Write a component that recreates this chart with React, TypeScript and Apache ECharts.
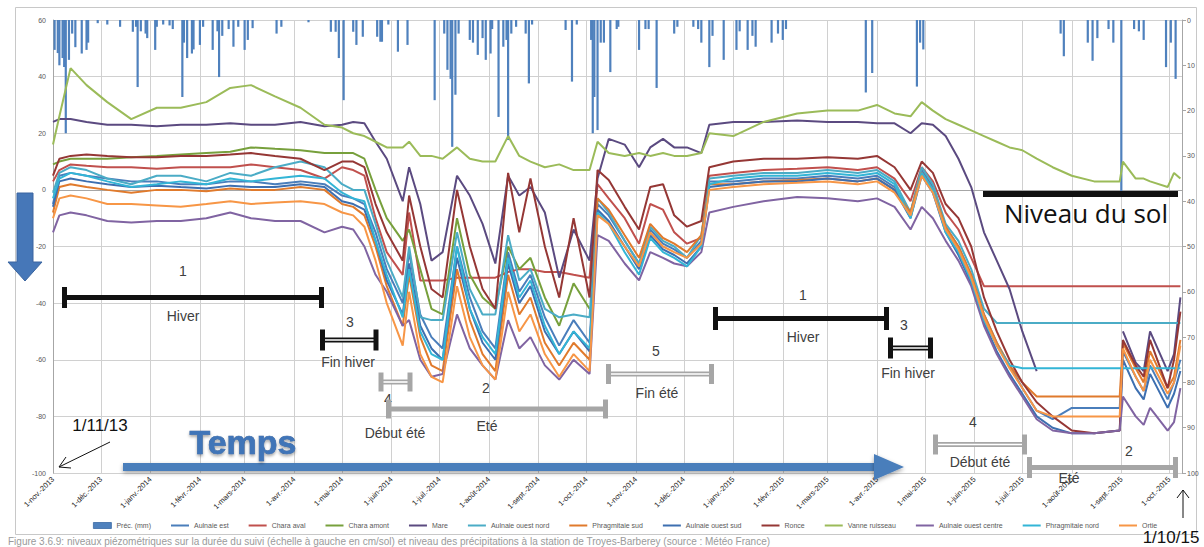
import React, { useEffect, useRef } from "react";
import * as echarts from "echarts";

// ---------- DATA ----------
const AXIS_START = "2013-11-01";
const AXIS_END = "2015-10-09";
const monthAbbr = ["janv.", "févr.", "mars", "avr.", "mai", "juin", "juil.", "août", "sept.", "oct.", "nov.", "déc."];

const sampleDates = [
  "2013-11-01", "2013-11-05", "2013-11-12", "2013-11-22", "2013-12-05", "2013-12-20", "2014-01-05", "2014-01-20", "2014-02-05", "2014-02-20",
  "2014-03-05", "2014-03-20", "2014-04-05", "2014-04-20", "2014-05-01", "2014-05-08", "2014-05-15", "2014-05-22", "2014-05-29", "2014-06-08",
  "2014-06-12", "2014-06-19", "2014-06-26", "2014-07-03", "2014-07-12", "2014-07-20", "2014-07-28", "2014-08-05", "2014-08-13", "2014-08-20",
  "2014-08-27", "2014-09-05", "2014-09-14", "2014-09-23", "2014-10-03", "2014-10-08", "2014-10-15", "2014-10-25", "2014-11-03", "2014-11-10",
  "2014-11-18", "2014-11-25", "2014-12-03", "2014-12-12", "2014-12-17", "2015-01-01", "2015-01-20", "2015-02-10", "2015-03-01", "2015-03-20",
  "2015-04-01", "2015-04-12", "2015-04-22", "2015-04-29", "2015-05-06", "2015-05-14", "2015-05-22", "2015-05-30", "2015-06-07", "2015-06-15",
  "2015-06-23", "2015-07-01", "2015-07-10", "2015-07-20", "2015-08-01", "2015-08-15", "2015-08-31", "2015-09-02", "2015-09-10", "2015-09-15",
  "2015-09-19", "2015-09-30", "2015-10-04", "2015-10-08",
];

const aulnaieEst = [
  -5, 5, 6, 5, 4, 3, 3, 2, 2, 3,
  3, 2, 3, 2, -2, -3, -5, -15, -28, -40,
  -22, -44, -52, -56, -20, -38, -50, -56, -22, -36,
  -30, -45, -55, -46, -54, -5, -9, -18, -26, -14,
  -19, -21, -24, -18, 3, 3, 4, 4, 5, 4,
  5, 1, -8, 7, 1, -13, -20, -30, -44, -54,
  -62, -70, -78, -81, -77, -77, -77, -57, -66, -71,
  -62, -74, -68, -60,
];
const charaAval = [
  3, 7, 9, 8.5, 8, 8, 7.5, 8, 8, 8,
  9, 8, 7, 4, 8, 7, 5, -10, -22, -30,
  -8, -32, -32, -32, -31, -31, -31, -31, -29, -28,
  -28, -29, -29, -30, -31, 2, -3, -10, -19, -5,
  -7, -15, -19, -17, 5, 6, 7, 7.5, 8, 7,
  8, 4, -4, 8, 3, -8, -14, -24, -34, -34,
  -34, -34, -34, -34, -34, -34, -34, -34, -34, -34,
  -34, -34, -34, -34,
];
const charaAmont = [
  9, 10, 11, 11, 11, 11.5, 12, 12.5, 13, 13.5,
  15, 14.5, 14, 13, 13, 13, 11, 0, -10, -18,
  -14, -28, -42, -44, -10, -30, -38, -42, -20, -28,
  -24, -38, -48, -33, -42, null, null, null, null, null,
  null, null, null, null, null, null, null, null, null, null,
  null, null, null, null, null, null, null, null, null, null,
  null, null, null, null, null, null, null, null, null, null,
  null, null, null, null,
];
const mare = [
  24, 25, 25, 24, 23, 23, 22.5, 23, 23, 23.5,
  23, 23, 24, 22.5, 23, 24, 23.5, 17, 11, -4,
  8, -5, -25, -22, 5, -2, -12, -26, 5, -2,
  1, -8, -31, -14, -25, 4, 18, 16, 8, 15,
  18, 15, 15, 13, 23, 24, 24, 24.5, 24, 24,
  23.5, 23.5, 20, 23.5, 23, 19, 11, 1, -15, -25,
  -35, -50, -64, null, null, null, null, -50, -61, -64,
  -50, -64, -58, -38,
];
const aulnaieOuestNord = [
  -1, 6, 8, 7, 4, 2, 5, 5, 3, 6,
  5, 8, 10, 8, 2, 0, 0, -12, -25, -38,
  -20, -45, -46, -46, -15, -35, -44, -44, -16, -32,
  -28, -42, -45, -44, -45, -3, -8, -18, -26, -13,
  -18, -20, -24, -16, 4, 5, 6, 6, 7, 6,
  7, 3, -8, 8, 2, -12, -18, -28, -42, -47,
  -47, -47, -47, -47, -47, -47, -47, -47, -47, -47,
  -47, -47, -47, -47,
];
const phragmitaieSud = [
  -8, 1, 2, 1, 0, -1, 0, 0, -0.5, 0.5,
  0, 0, 1, 0, -5, -6, -9, -20, -34, -48,
  -30, -52, -62, -64, -28, -46, -58, -64, -30, -44,
  -38, -54, -62, -54, -60, -3, -7, -16, -24, -12,
  -17, -19, -22, -16, 2, 2, 3, 3.5, 4, 3,
  4, 0, -8, 6, 0, -13, -20, -30, -44, -54,
  -62, -68, -73, -73, -73, -73, -73, -54, -63, -68,
  -57, -70, -66, -53,
];
const aulnaieOuestSud = [
  -6, 3, 4, 3, 2, 1, 1.5, 1, 0.5, 1.5,
  1, 1, 2, 1, -4, -5, -7, -18, -32, -44,
  -26, -48, -56, -60, -24, -42, -54, -60, -26, -40,
  -34, -50, -58, -50, -57, -7, -11, -20, -28, -16,
  -21, -23, -26, -20, 1, 2, 3, 3, 4, 3,
  4, 0, -10, 5, -1, -15, -23, -33, -47, -57,
  -65, -72, -80, -84, -86, -86, -85, -60, -70, -74,
  -65, -77, -72, -64,
];
const ronce = [
  5, 11, 12, 12.5, 12, 11.5, 11.5, 12, 12, 12.5,
  13, 12, 11, 7, 10, 10, 8, -5, -15, -25,
  -2, -20, -35, -38, 0, -20, -35, -42, 6, -15,
  4, -20, -38, -10, -38, 7, 3.5, -6, -14, 1,
  2, -9, -13, -11, 8, 10, 11, 11, 11.5, 11,
  12, 8, 0, 10, 6, -5, -10, -20, -38, -50,
  -60, -68, -75, -80, -85, -86, -85, -53, -62, -66,
  -53, -70, -60, -43,
];
const vanneRuisseau = [
  16, 26, 43, 37, 31, 25, 29, 29, 31, 36,
  37, 33, 29, 23, 22, 20, 19, 17, 15, 15,
  17, 12, 12, 11, 15, 11, 10, 10, 19, 12,
  10, 8, 9, 7, 7, 17, 13, 12, 13, 12,
  13, 12, 12, 13, 20, 19, 24, 27, 28, 28,
  30, 27, 26, 31, 28, 25, 23, 21, 19, 17,
  15, 14, 11, 8, 5, 3, 3, 10, 4, 4,
  3, 1, 6, 4,
];
const aulnaieOuestCentre = [
  -15, -9, -8, -9, -11, -11.5, -11, -11, -10, -8,
  -10, -11, -11, -15, -13, -14, -20, -30, -36, -48,
  -46, -60, -66, -65, -44, -56, -62, -67, -46, -56,
  -52, -62, -67, -60, -65, -16, -18, -26, -32, -22,
  -24, -26, -27, -22, -8, -6, -4, -2.5, -3, -4,
  -3, -6, -14, -6, -10, -18, -25, -34, -48, -58,
  -66, -73, -81, -85, -86, -86, -85, -73, -80, -83,
  -77, -85, -82, -70,
];
const phragmitaieNord = [
  -3, 4, 6, 5, 3, 1, 2, 3, 2, 4,
  3, 4, 5, 4, -1, -3, -4, -18, -30, -45,
  -28, -50, -58, -60, -20, -42, -52, -58, -24, -38,
  -32, -48, -58, -50, -56, -8, -12, -22, -30, -17,
  -22, -24, -27, -20, 2, 4, 5, 5, 6, 5,
  6, 2, -10, 6, 0, -15, -22, -32, -46, -55,
  -62, -63, -63, -63, -63, -63, -63, -63, -63, -63,
  -63, -63, -63, -63,
];
const ortie = [
  -10, -3, -2, -3, -5, -5, -5.5, -6, -5, -4,
  -5, -4.5, -4, -5, -8, -9, -13, -25, -40, -55,
  -36, -58, -66, -68, -34, -52, -62, -67, -36, -50,
  -44, -58, -66, -58, -64, -9, -12, -20, -27, -15,
  -20, -22, -24, -19, 0, 1, 2, 2.5, 3, 2,
  3, -1, -9, 5, -1, -14, -21, -31, -45, -55,
  -63, -70, -78, -80, -80, -80, -80, -56, -66, -71,
  -60, -72, -68, -55,
];

const lineNames = [
  "Aulnaie est", "Chara aval", "Chara amont", "Mare", "Aulnaie ouest nord", "Phragmitaie sud",
  "Aulnaie ouest sud", "Ronce", "Vanne ruisseau", "Aulnaie ouest centre", "Phragmitaie nord", "Ortie",
];
const lineValues = [
  aulnaieEst, charaAval, charaAmont, mare, aulnaieOuestNord, phragmitaieSud,
  aulnaieOuestSud, ronce, vanneRuisseau, aulnaieOuestCentre, phragmitaieNord, ortie,
];
const lineColors = [
  "#4a7ebb", "#c0504d", "#77a03c", "#5b4a80", "#4bacc6", "#e07a2c",
  "#3d6fb0", "#953735", "#9bbb59", "#8064a2", "#33b5d6", "#f79646",
];

const precipName = "Préc. (mm)";
const precipDates = [
  "2013-11-02", "2013-11-04", "2013-11-05", "2013-11-07", "2013-11-08", "2013-11-09", "2013-11-11", "2013-11-13", "2013-11-15", "2013-11-19",
  "2013-11-22", "2013-11-23", "2013-11-29", "2013-12-05", "2013-12-13", "2013-12-21", "2013-12-23", "2013-12-24", "2013-12-26", "2013-12-29",
  "2013-12-30", "2014-01-04", "2014-01-05", "2014-01-09", "2014-01-13", "2014-01-15", "2014-01-21", "2014-01-22", "2014-01-24", "2014-01-27",
  "2014-01-28", "2014-02-01", "2014-02-03", "2014-02-09", "2014-02-12", "2014-02-13", "2014-02-15", "2014-02-19", "2014-02-22", "2014-02-25",
  "2014-03-01", "2014-03-03", "2014-03-06", "2014-03-21", "2014-03-24", "2014-04-10", "2014-04-24", "2014-04-27", "2014-04-29", "2014-05-02",
  "2014-05-08", "2014-05-10", "2014-05-14", "2014-05-23", "2014-05-25", "2014-05-26", "2014-05-30", "2014-06-05", "2014-06-11", "2014-06-28",
  "2014-07-04", "2014-07-06", "2014-07-08", "2014-07-09", "2014-07-11", "2014-07-13", "2014-07-20", "2014-07-22", "2014-07-25", "2014-07-28",
  "2014-07-30", "2014-08-02", "2014-08-03", "2014-08-07", "2014-08-10", "2014-08-12", "2014-08-13", "2014-08-15", "2014-08-18", "2014-08-24",
  "2014-08-26", "2014-08-28", "2014-09-18", "2014-09-22", "2014-09-25", "2014-10-04", "2014-10-05", "2014-10-06", "2014-10-08", "2014-10-10",
  "2014-10-12", "2014-10-16", "2014-10-20", "2014-10-21", "2014-11-03", "2014-11-07", "2014-11-09", "2014-11-14", "2014-11-25", "2014-11-27",
  "2014-12-07", "2014-12-10", "2014-12-12", "2014-12-17", "2014-12-19", "2014-12-26", "2015-01-03", "2015-01-05", "2015-01-10", "2015-01-13",
  "2015-01-15", "2015-01-25", "2015-01-29", "2015-02-01", "2015-02-03", "2015-03-25", "2015-03-29", "2015-04-26", "2015-04-28", "2015-04-30",
  "2015-07-25", "2015-07-27", "2015-08-11", "2015-08-14", "2015-08-17",
  "2015-08-24", "2015-08-27", "2015-09-01", "2015-09-09", "2015-09-12", "2015-09-15", "2015-09-29", "2015-10-02", "2015-10-05",
];
const precipMm = [
  6.6, 7.3, 10, 8.4, 10.4, 25, 8.8, 3, 6, 7.4,
  6.6, 5, 0.7, 1, 1.5, 2.6, 1.5, 14.8, 2.5, 3,
  4, 6.6, 1.5, 1, 1.2, 2, 17, 5, 8.4, 7.4,
  6.5, 5.5, 1.5, 6.6, 2.5, 12.6, 3.5, 2, 5.9, 1.5,
  6.6, 4.4, 1.8, 3, 1.5, 0.5, 2.6, 2.6, 8.4, 17.7,
  2.6, 5.5, 3.7, 3.7, 4.8, 4.8, 1, 7, 5.5, 17.7,
  3, 11, 13, 28, 16.5, 3, 4.4, 5, 7.7, 4,
  8.8, 7.4, 2, 21.4, 5.9, 4.4, 26.5, 3, 1.5, 3,
  14, 1, 2.2, 13.6, 1, 4.4, 25, 17, 24.3, 5,
  5, 11.5, 2, 1.5, 6.6, 2, 2, 15, 3, 1.5,
  1.5, 2, 5, 10.4, 3.5, 8.8, 6.6, 2.5, 6.6, 3.5,
  5.9, 5, 3, 4.4, 2, 16, 11.7, 14.7, 5, 6.5,
  3, 8, 5, 9, 4,
  2, 5, 39, 2, 2.5, 4.4, 10.4, 5, 13,
];

const leftAxis = { min: -100, max: 60, interval: 20 };
const rightAxis = { min: 0, max: 100, interval: 10 };

// ---------- helpers ----------
function buildDays(start: string, end: string): string[] {
  const out: string[] = [];
  const s = new Date(start + "T00:00:00Z").getTime();
  const e = new Date(end + "T00:00:00Z").getTime();
  for (let t = s; t <= e; t += 86400000) out.push(new Date(t).toISOString().slice(0, 10));
  return out;
}
const isMonthStart = (_i: number, v: string) => v.endsWith("-01");
const fmtDate = (v: string) => {
  const [y, m, d] = v.split("-");
  return `${parseInt(d, 10)}-${monthAbbr[parseInt(m, 10) - 1]}-${y}`;
};

const TXT_FONT = "Liberation Sans, Arial, sans-serif";
function txt(s: string, x: number, y: number, size: number, color = "#404040", weight = "normal", family = TXT_FONT, extra: any = {}) {
  return {
    type: "text", x, y, z: 100,
    style: {
      text: s, fill: color, font: `${weight} ${size}px ${family}`,
      align: "center", verticalAlign: "middle", textAlign: "center", textVerticalAlign: "middle", ...extra,
    },
  };
}
function whisker(x1: number, x2: number, y: number, color: string, double: boolean, capH = 21) {
  const els: any[] = [
    { type: "rect", z: 100, shape: { x: x1, y: y - 2.5, width: x2 - x1, height: 5 }, style: { fill: color } },
  ];
  if (double) els.push({ type: "rect", z: 101, shape: { x: x1, y: y - 0.8, width: x2 - x1, height: 1.6 }, style: { fill: "#ffffff" } });
  els.push({ type: "rect", z: 102, shape: { x: x1 - 2.5, y: y - capH / 2, width: 5, height: capH }, style: { fill: color } });
  els.push({ type: "rect", z: 102, shape: { x: x2 - 2.5, y: y - capH / 2, width: 5, height: capH }, style: { fill: color } });
  return els;
}

const BLACK = "#111111";
const GREY = "#a6a6a6";

function buildGraphic() {
  const g: any[] = [];
  g.push({ type: "rect", z: 0, shape: { x: 15.5, y: 7.5, width: 1181, height: 527 }, style: { fill: "none", stroke: "#c8c8c8", lineWidth: 1 }, silent: true });
  // left blue down arrow
  g.push({
    type: "polygon", z: 100,
    shape: { points: [[17, 193], [33, 193], [33, 262], [42, 262], [25, 281], [8, 262], [17, 262]] },
    style: { fill: "#4677b8", stroke: "#3a65a0", lineWidth: 1 },
  });
  // phases
  g.push(...whisker(64.5, 321.5, 297.5, BLACK, false));
  g.push(txt("1", 183, 271, 14), txt("Hiver", 183, 316, 14));
  g.push(...whisker(322.5, 376, 340, BLACK, true));
  g.push(txt("3", 350, 322, 14), txt("Fin hiver", 348, 362, 14));
  g.push(...whisker(381, 410, 382, GREY, true, 19));
  g.push(txt("4", 388, 399, 14), txt("Début été", 395, 433, 14));
  g.push(...whisker(388.5, 605.5, 409, GREY, false, 19));
  g.push(txt("2", 486, 388, 14), txt("Eté", 487, 426, 14));
  g.push(...whisker(608.5, 711.5, 374, GREY, true, 20));
  g.push(txt("5", 656, 351, 14), txt("Fin été", 657, 393, 14));
  g.push(...whisker(715.5, 886.5, 318.5, BLACK, false, 23));
  g.push(txt("1", 803, 295, 14), txt("Hiver", 803, 337, 14));
  g.push(...whisker(890.5, 930.5, 348, BLACK, true, 21));
  g.push(txt("3", 904, 325, 14), txt("Fin hiver", 908, 373, 14));
  g.push(...whisker(935.5, 1024.5, 444.5, GREY, true, 20));
  g.push(txt("4", 973, 422, 14), txt("Début été", 980, 462, 14));
  g.push(...whisker(1029.5, 1175.5, 467.5, GREY, false, 21));
  g.push(txt("2", 1129, 451, 14), txt("Eté", 1069, 478, 14));
  // Niveau du sol
  g.push({ type: "rect", z: 100, shape: { x: 983, y: 191, width: 195, height: 6 }, style: { fill: BLACK } });
  g.push(txt("Niveau du sol", 1086, 213, 26, "#111111", "normal", "Open Sans, Noto Sans, sans-serif"));
  // Temps arrow
  g.push({
    type: "rect", z: 100, shape: { x: 123, y: 463, width: 754, height: 8 },
    style: { fill: "#4a7ebb", shadowBlur: 4, shadowColor: "rgba(0,0,0,0.35)", shadowOffsetY: 2 },
  });
  g.push({
    type: "polygon", z: 100, shape: { points: [[874, 454], [904, 467], [874, 480]] },
    style: { fill: "#4a7ebb", shadowBlur: 4, shadowColor: "rgba(0,0,0,0.35)", shadowOffsetY: 2 },
  });
  g.push(txt("Temps", 243, 442, 34, "#3f74b8", "bold", TXT_FONT, {
    stroke: "#2a5590", lineWidth: 0.6, textShadowColor: "rgba(0,0,0,0.35)", textShadowBlur: 3, textShadowOffsetY: 2,
  }));
  // 1/11/13
  g.push(txt("1/11/13", 100, 425, 17, "#111111"));
  g.push({ type: "line", z: 100, shape: { x1: 110, y1: 442, x2: 59, y2: 467 }, style: { stroke: BLACK, lineWidth: 1 } });
  g.push({ type: "polyline", z: 100, shape: { points: [[71, 468], [59, 467], [66, 457]] }, style: { stroke: BLACK, lineWidth: 1, fill: "none" } });
  // 1/10/15
  g.push(txt("1/10/15", 1171, 537, 17, "#111111"));
  g.push({ type: "line", z: 100, shape: { x1: 1183, y1: 518, x2: 1183, y2: 490 }, style: { stroke: BLACK, lineWidth: 1 } });
  g.push({ type: "polyline", z: 100, shape: { points: [[1177, 498], [1183, 490], [1189, 498]] }, style: { stroke: BLACK, lineWidth: 1, fill: "none" } });
  // caption
  g.push({
    type: "text", z: 100, x: 8, y: 536,
    style: {
      text: "Figure 3.6.9: niveaux piézométriques sur la durée du suivi (échelle à gauche en cm/sol) et niveau des précipitations à la station de Troyes-Barberey (source : Météo France)",
      fill: "#9a9a9a", font: `normal 10px ${TXT_FONT}`, align: "left", verticalAlign: "top", textAlign: "left", textVerticalAlign: "top",
    },
  });
  return g;
}

export default function App() {
  const ref = useRef<HTMLDivElement>(null);
  useEffect(() => {
    if (!ref.current) return;
    const chart = echarts.init(ref.current, undefined, { renderer: "svg" });
    const days = buildDays(AXIS_START, AXIS_END);
    const lineSeries = lineNames.map((name, i) => ({
      type: "line",
      name,
      xAxisIndex: 0,
      yAxisIndex: 0,
      data: sampleDates.map((d, k) => [d, lineValues[i][k]]),
      symbol: "none",
      connectNulls: false,
      lineStyle: { width: 2, color: lineColors[i] },
      itemStyle: { color: lineColors[i] },
      z: 3 + i,
    }));
    chart.setOption({
      animation: false,
      textStyle: { fontFamily: TXT_FONT },
      grid: { left: 53, right: 22, top: 20, bottom: 74, containLabel: false },
      legend: {
        top: 517,
        left: 88,
        itemWidth: 18,
        itemHeight: 6,
        itemGap: 19,
        itemStyle: { opacity: 0 },
        textStyle: { fontSize: 7, color: "#595959" },
        data: [{ name: precipName, icon: "rect", itemStyle: { opacity: 1, color: "#4f81bd", borderColor: "#3a6aa5", borderWidth: 0.8 } }, ...lineNames],
      },
      xAxis: {
        type: "category",
        data: days,
        boundaryGap: false,
        axisLine: { lineStyle: { color: "#a6a6a6" } },
        axisTick: { show: false },
        axisLabel: { interval: isMonthStart, rotate: 45, fontSize: 7.5, color: "#222222", margin: 5, formatter: fmtDate },
        splitLine: { show: true, interval: isMonthStart, lineStyle: { color: "#d0d0d0", width: 1 } },
      },
      yAxis: [
        {
          type: "value", min: leftAxis.min, max: leftAxis.max, interval: leftAxis.interval,
          axisLine: { show: true, lineStyle: { color: "#a6a6a6" } },
          axisTick: { show: false },
          axisLabel: { fontSize: 7, color: "#595959", margin: 7 },
          splitLine: { show: true, lineStyle: { color: "#d0d0d0", width: 1 } },
        },
        {
          type: "value", min: rightAxis.min, max: rightAxis.max, interval: rightAxis.interval, inverse: true, position: "right",
          axisLine: { show: true, lineStyle: { color: "#a6a6a6" } },
          axisTick: { show: true, length: 4, lineStyle: { color: "#a6a6a6" } },
          axisLabel: { fontSize: 7, color: "#595959", margin: 5 },
          splitLine: { show: false },
        },
      ],
      series: [
        {
          type: "bar",
          name: precipName,
          xAxisIndex: 0,
          yAxisIndex: 1,
          data: precipDates.map((d, k) => [d, precipMm[k]]),
          barWidth: 2.2,
          itemStyle: { color: "#4f81bd" },
          z: 2,
        },
        ...lineSeries,
      ],
      graphic: { elements: buildGraphic() },
    });
    return () => chart.dispose();
  }, []);
  return <div ref={ref} style={{ position: "fixed", left: 0, top: 0, width: 1204, height: 547, background: "#ffffff" }} />;
}
